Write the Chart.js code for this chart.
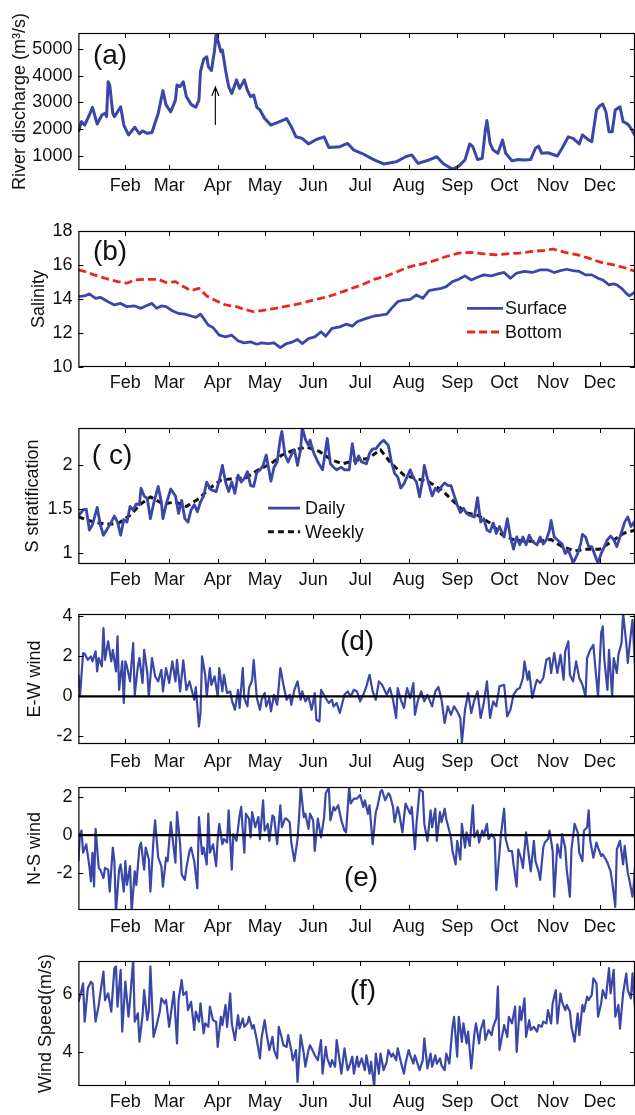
<!DOCTYPE html>
<html><head><meta charset="utf-8">
<script src="https://cdn.jsdelivr.net/npm/chart.js@4.4.1/dist/chart.umd.min.js"></script>
<style>
html,body{margin:0;padding:0;background:#fff;}
#wrap{position:relative;width:635px;height:1115px;overflow:hidden;background:#fff;}
canvas{position:absolute;left:0;}
</style></head><body>
<div id="wrap"></div>
<script>
// ---------- axis / tick data ----------
const monthStarts = [31,59,90,120,151,181,212,243,273,304,334];
const monthLabels = ['Feb','Mar','Apr','May','Jun','Jul','Aug','Sep','Oct','Nov','Dec'];
const dayMin = 1, dayMax = 356.6;
const ticksA = [1000,2000,3000,4000,5000];
const ticksB = [10,12,14,16,18];
const ticksC = [1,1.5,2];
const ticksD = [-2,0,2,4];
const ticksE = [-2,0,2];
const ticksF = [4,6];

// ---------- (a) river discharge ----------
const dischargeDay = [1,3,5,8,10,13,16,18,19,20,21,23,24,26,28,30,33,37,40,42,45,48,50,52,55,57,60,63,64,66,68,70,73,76,78,79,81,83,84,86,88,89,90,92,93,95,97,99,102,104,107,109,111,113,115,117,120,124,128,133,134,137,140,144,148,153,158,161,168,173,177,182,190,196,204,210,214,218,225,230,234,240,244,248,251,253,256,259,261,262,264,266,269,272,274,278,282,286,290,293,295,297,301,307,310,314,317,321,323,327,329,332,334,336,338,340,342,344,347,349,352,354,357];
const dischargeVal = [1900,2280,2150,2530,2820,2190,2530,2590,2470,3780,3660,2590,2470,2650,2840,2150,1780,2070,1820,1930,1840,1870,2240,2590,3450,2910,2650,3090,3660,3600,3780,3220,2930,2820,3090,4160,4620,4720,4350,4200,4970,5600,5350,4910,4970,4220,3600,3340,3850,3530,3850,3450,3220,3280,2820,2720,2400,2150,2240,2370,2400,2090,1710,1650,1440,1610,1710,1310,1340,1460,1210,1090,840,690,770,960,1030,710,840,960,710,490,610,840,1440,1340,860,900,1970,2320,1460,1210,1090,1590,1090,810,860,840,860,1280,1360,1090,1110,990,1280,1710,1650,1440,1780,1590,1530,2720,2870,2940,2650,1900,1900,2720,2840,2280,2190,2030,1710];

// ---------- (b) salinity ----------
const surfaceDay = [1,5,8,12,15,20,24,28,32,37,41,44,48,51,54,57,61,65,69,73,76,79,81,84,87,91,95,99,103,107,111,115,118,122,126,130,134,138,141,144,148,152,156,159,163,168,172,176,179,185,190,194,198,201,205,209,213,217,221,225,229,233,236,240,244,248,252,256,260,265,269,273,277,281,286,291,296,301,305,309,313,317,321,325,329,333,336,340,343,345,348,351,353,357];
const surfaceVal = [14.14,14.18,14.3,14.04,14.1,13.84,13.65,13.74,13.55,13.59,13.45,13.59,13.74,13.45,13.59,13.55,13.31,13.15,13.11,13.0,12.92,13.11,12.86,12.46,12.32,11.87,11.77,11.87,11.54,11.42,11.48,11.34,11.42,11.38,11.42,11.14,11.38,11.48,11.62,11.38,11.67,11.77,12.07,11.81,12.27,12.36,12.52,12.4,12.66,12.86,13.0,13.05,13.11,13.45,13.84,13.94,13.98,14.24,14.04,14.49,14.57,14.63,14.73,15.02,15.16,15.36,15.12,15.28,15.42,15.36,15.48,15.56,15.22,15.52,15.62,15.56,15.71,15.71,15.56,15.67,15.75,15.67,15.62,15.42,15.42,15.22,15.12,14.83,14.89,14.83,14.63,14.33,14.18,14.43];
const bottomDay = [1,5,11,18,26,32,37,44,52,57,63,68,73,78,83,89,95,102,107,113,120,127,135,143,151,159,166,174,182,190,198,205,213,221,229,236,244,252,260,268,275,283,291,299,304,312,320,327,335,343,351,357];
const bottomVal = [15.71,15.62,15.42,15.22,15.02,14.93,15.12,15.16,15.16,14.97,15.02,14.73,14.49,14.63,14.18,13.9,13.65,13.55,13.39,13.25,13.35,13.45,13.59,13.74,13.94,14.1,14.3,14.57,14.83,15.16,15.36,15.62,15.91,16.07,16.27,16.5,16.7,16.74,16.66,16.6,16.66,16.7,16.8,16.86,16.94,16.74,16.6,16.4,16.15,16.01,15.81,15.62];

// ---------- (c) stratification ----------
const dailyDay = [1,4,6,8,10,13,15,17,19,22,24,26,28,30,32,34,36,38,40,41,43,45,47,49,52,54,55,57,60,63,65,67,69,71,73,75,77,79,81,83,85,86,89,91,93,95,97,99,101,103,105,107,109,111,113,115,117,119,121,122,124,126,128,130,131,133,135,137,139,141,143,144,146,148,149,151,154,157,159,160,162,164,166,169,171,174,176,178,180,182,185,187,189,191,194,196,199,201,203,205,207,209,211,213,215,217,219,221,222,224,227,229,231,233,235,237,239,241,243,245,247,249,251,254,256,258,260,262,264,266,268,270,273,275,277,279,281,283,285,287,289,291,294,296,298,300,302,303,305,308,310,312,314,316,317,320,322,323,325,327,329,331,333,335,337,339,341,343,345,347,350,352,354,356,357];
const dailyVal = [1.42,1.49,1.5,1.26,1.32,1.52,1.32,1.2,1.26,1.35,1.42,1.35,1.2,1.38,1.35,1.53,1.49,1.56,1.55,1.74,1.65,1.62,1.39,1.56,1.76,1.58,1.39,1.55,1.73,1.65,1.45,1.6,1.39,1.35,1.49,1.55,1.47,1.58,1.65,1.81,1.74,1.72,1.7,1.83,2.0,1.81,1.7,1.81,1.68,1.89,1.81,1.85,1.93,1.77,1.76,1.92,1.95,2.0,2.12,2.02,1.82,1.98,2.04,2.31,2.39,2.12,2.04,2.12,2.18,2.0,2.19,2.44,2.3,2.23,2.29,2.16,2.04,1.95,2.19,2.31,2.02,1.98,1.95,1.98,1.95,1.95,2.25,2.02,2.11,2.04,2.02,2.14,2.19,2.19,2.26,2.29,2.23,2.04,1.91,1.87,1.74,1.79,1.87,1.95,1.86,1.81,1.64,1.85,2.0,1.85,1.65,1.74,1.7,1.76,1.8,1.77,1.77,1.66,1.55,1.46,1.51,1.45,1.43,1.41,1.63,1.35,1.39,1.26,1.24,1.34,1.22,1.3,1.18,1.39,1.18,1.04,1.18,1.09,1.18,1.09,1.2,1.13,1.09,1.18,1.1,1.15,1.26,1.37,1.18,1.13,1.1,0.99,1.03,0.94,0.88,0.99,1.11,1.21,1.18,1.07,1.07,0.97,0.88,0.99,1.07,1.15,1.19,1.15,1.07,1.18,1.35,1.41,1.3,1.35,1.26];
const weeklyDay = [1,11,18,26,34,41,47,55,63,70,78,85,92,100,108,116,124,131,139,147,155,163,170,178,186,194,201,209,217,225,233,240,248,256,264,272,279,287,295,303,310,318,326,334,342,349,357];
const weeklyVal = [1.41,1.35,1.33,1.33,1.43,1.56,1.64,1.56,1.58,1.53,1.62,1.74,1.83,1.85,1.86,1.95,2.02,2.12,2.18,2.21,2.16,2.06,2.02,2.06,2.08,2.18,2.02,1.89,1.85,1.81,1.72,1.6,1.46,1.43,1.34,1.2,1.15,1.13,1.13,1.15,1.07,1.02,1.04,1.04,1.13,1.22,1.26];

// ---------- (d) E-W wind ----------
const ewDay = [1,2,4,5,7,9,10,12,13,14,16,17,18,20,22,23,25,26,27,29,30,31,32,34,36,37,39,40,42,43,45,46,48,50,52,54,55,57,59,61,63,64,66,68,70,72,75,76,78,79,80,82,83,85,86,88,90,91,93,94,96,98,99,101,103,104,106,107,109,110,112,113,115,117,118,120,121,123,124,126,128,130,132,134,136,137,139,141,143,144,146,148,150,152,153,155,156,159,161,163,164,166,168,171,173,175,177,179,181,183,185,187,189,191,193,195,198,200,202,204,205,207,209,211,213,215,216,218,220,222,224,227,229,231,233,235,237,239,241,243,245,246,248,250,252,254,256,258,260,262,264,266,268,270,273,275,277,279,281,283,285,286,288,289,291,293,294,296,298,300,302,303,305,307,309,311,312,314,315,317,319,321,323,325,326,328,330,331,333,335,336,337,339,340,342,343,345,346,348,349,351,352,354,355,357];
const ewVal = [1.08,0,2.17,2.13,1.83,2.0,1.75,2.25,1.25,1.92,1.5,3.42,1.83,2.75,1.75,2.33,1.25,3.0,0.33,1.75,-0.33,1.75,1.5,0.75,2.67,0.08,1.5,1.92,0.67,2.33,1.17,0,1.92,1.0,0.75,1.33,0.25,1.42,0.67,1.75,0.75,1.83,0.25,1.8,0.33,0.75,-0.17,0.47,-1.5,-0.83,2.0,1.08,0,1.42,0.58,1.0,0,1.42,0.25,1.08,0.17,0.25,-0.17,-0.67,0.33,-0.58,1.42,-0.08,-0.5,0.42,0.83,1.83,-0.08,-0.67,-0.17,0.17,-0.5,-0.08,-0.75,0.08,-0.42,1.42,0.58,-0.17,0.08,-0.42,0.33,0.75,-0.17,0.25,-0.25,0,-0.67,0.17,-1.17,-1.25,0.33,-0.08,-0.33,-0.17,-0.5,-0.33,-0.83,0.08,0.25,0,0.33,0.25,-0.25,0.08,0.5,1.08,0.25,-0.17,0.75,0.58,0.08,0.42,-0.17,-1.08,0.42,-0.17,-0.58,0.42,-0.08,0.67,-0.92,-0.17,0.25,-0.25,0.08,-0.5,0.25,0.47,-0.17,-1.33,-0.5,-0.92,-0.5,-0.75,-1.08,-2.33,-0.67,0.17,-0.83,-0.17,0.25,-1.08,-0.33,0.75,-1.08,-0.25,-0.5,0.5,0.58,-1.0,-0.67,0.08,0.33,0.42,0.92,1.75,0.83,1.25,-0.08,0.58,0.83,0.67,0.92,1.83,1.92,1.17,2.17,1.17,2.08,0.83,2.25,2.75,1.08,0.75,1.75,0.92,0.58,0,1.92,2.33,2.58,1.67,0,3.17,3.5,1.83,0.33,2.33,0,1.92,1.17,2.08,2.67,4.17,2.67,1.67,3.17,3.83,0.92];

// ---------- (e) N-S wind ----------
const nsDay = [1,2,3,4,6,8,9,10,11,12,14,15,17,18,20,21,23,24,25,27,28,30,31,32,34,35,37,38,40,41,43,44,46,47,49,50,52,54,55,57,58,60,62,63,64,66,67,69,70,72,73,75,77,78,80,81,83,84,85,87,89,90,91,93,94,96,97,99,100,102,104,105,107,108,110,111,112,114,116,117,119,120,122,123,125,126,128,130,131,133,134,136,137,139,141,142,143,145,146,148,149,151,152,154,156,158,159,161,162,164,165,167,169,171,172,174,175,177,179,181,183,184,186,187,189,191,192,194,195,197,199,200,202,203,205,206,208,210,211,213,214,216,217,219,221,222,224,226,227,229,230,232,233,235,236,239,240,242,243,245,246,248,249,251,253,254,256,257,259,260,262,263,265,267,268,270,271,273,274,276,278,279,281,282,284,285,287,288,290,292,293,295,296,298,299,301,302,304,305,307,309,310,312,313,315,316,318,320,321,323,324,326,327,328,330,332,333,335,336,338,339,341,342,344,345,347,349,350,352,353,355,356,357];
const nsVal = [-1.36,0.05,0.23,-0.92,-0.48,-1.62,-2.41,-0.92,-2.68,0.32,-1.71,-1.8,-2.24,-1.71,-1.8,-2.94,-0.65,-1.36,-4.0,-1.8,-1.53,-2.94,-1.36,-2.59,-1.62,-4.0,-1.89,-2.59,-0.65,-0.39,-1.8,-0.65,-1.27,-2.94,-0.21,0.76,-1.18,-1.62,-2.68,-1.18,-1.36,0.67,-0.74,-1.44,1.2,-0.48,-2.06,-2.33,-1.71,-0.83,-0.65,-1.36,-2.77,0.93,-1.0,-0.65,-1.53,1.11,-0.92,-0.48,-1.62,-0.21,0.58,-0.48,-0.21,-0.39,1.29,-1.8,0.05,-0.3,1.02,1.46,-0.92,1.11,0.85,-0.12,1.2,0.41,0.93,-0.21,1.81,0.23,0.58,-0.3,1.02,0.93,-0.48,1.55,0.41,0.85,0.85,0.67,-0.39,-1.36,-0.21,0.93,2.52,0.93,1.11,0.32,1.11,0.76,-0.83,0.85,-0.12,0.93,2.17,2.48,0.76,1.46,1.29,1.55,0.76,0.23,0.14,2.52,1.64,1.9,1.9,2.08,1.46,1.81,1.11,1.55,-0.48,1.2,1.46,2.26,2.34,1.81,2.17,2.08,1.46,0.67,1.46,1.11,0.14,1.64,1.46,1.11,1.46,-0.74,0.58,2.38,2.26,0.58,-0.3,1.29,0.41,1.37,-0.3,1.2,0.67,1.37,0.85,-0.12,-0.83,-1.53,-0.3,-1.27,0.58,-0.65,0.14,-0.56,1.55,-0.12,0.23,-0.39,0.23,-0.04,0.58,-0.21,0.05,-0.21,-2.85,-0.92,0.05,1.37,-0.21,-0.83,-0.83,-1.53,-2.68,-0.74,-1.27,-1.71,0.14,-0.56,-1.89,-0.3,-1.36,-1.89,-2.33,-0.65,-0.39,-0.21,0.23,-0.83,-3.21,-0.48,-1.18,0.05,-0.65,-1.8,-3.21,-0.74,0.58,0.14,-0.92,-1.36,0.23,0.41,1.29,-0.3,-1.18,-0.39,-0.65,-1.09,-1.0,-1.27,-1.44,-1.89,-2.41,-3.74,-0.74,-0.3,-1.53,-0.56,-1.97,-2.33,-3.21,-2.41,-1.18];

// ---------- (f) wind speed ----------
const wsDay = [1,2,4,5,7,9,10,12,14,15,17,18,20,22,24,25,26,28,29,31,33,34,36,37,39,40,42,43,45,46,47,49,51,53,54,56,57,59,61,62,64,65,67,68,70,71,73,75,76,78,79,81,82,84,85,87,89,90,92,93,95,96,98,99,101,103,104,106,107,109,110,112,113,115,117,118,120,121,123,125,126,128,129,131,132,134,135,137,138,140,141,143,145,146,148,149,151,152,154,156,157,159,160,162,163,165,166,168,169,171,173,174,176,177,179,180,182,184,185,187,188,190,191,193,194,196,198,199,201,202,204,205,207,209,210,212,213,215,216,218,219,221,222,224,226,227,229,230,232,233,235,236,238,240,241,243,244,246,247,249,250,252,254,255,257,258,260,261,263,265,266,268,269,270,272,273,275,276,278,280,281,283,284,286,287,289,290,292,294,295,297,298,300,301,303,304,306,307,309,310,312,313,315,316,318,320,321,323,324,326,327,329,330,332,333,335,336,338,340,341,343,344,346,347,349,351,352,354,355,357];
const wsVal = [5.74,5.92,6.38,5.05,6.21,6.44,6.38,5.05,5.63,6.03,6.79,5.8,6.03,5.4,6.91,6.97,5.57,6.85,4.7,6.44,5.22,5.8,7.2,5.05,5.34,4.35,5.28,6.15,5.1,5.45,6.97,4.52,4.93,5.4,5.86,5.69,5.8,4.87,5.69,6.09,4.29,5.8,6.5,5.98,6.09,5.45,5.74,4.76,5.4,5.05,5.69,4.64,4.99,4.87,5.57,5.1,5.05,4.17,5.22,4.93,5.63,4.87,6.03,4.99,4.41,5.28,4.81,5.16,4.87,4.99,5.22,4.81,4.93,4.41,3.77,4.47,5.1,4.7,4.06,4.52,4.06,3.77,4.87,4.47,4.23,4.17,4.58,4.06,3.71,4.06,2.95,4.58,3.94,3.48,4.06,4.23,4.0,3.88,3.71,4.41,3.24,4.17,3.77,3.48,3.71,3.48,4.41,3.65,3.24,4.12,3.36,3.48,3.83,3.24,3.83,3.48,3.77,3.36,3.88,3.24,3.65,2.78,3.94,3.24,3.94,3.36,3.65,4.06,3.83,3.94,3.71,4.12,3.65,3.24,3.59,4.06,3.88,3.59,3.88,3.53,3.36,3.71,4.47,3.42,3.94,3.48,3.88,3.59,3.77,3.53,3.36,3.94,3.59,4.87,5.22,3.83,5.22,4.35,4.99,4.29,4.7,3.42,4.64,4.99,4.29,4.76,5.1,4.41,4.76,4.58,4.87,5.16,6.27,4.06,4.64,4.93,4.52,5.22,4.99,5.57,4.0,5.57,5.1,5.86,4.52,5.1,4.76,4.87,4.7,4.93,4.87,5.05,4.99,5.45,4.99,5.69,6.15,4.99,6.03,5.74,5.45,5.63,5.4,4.87,4.35,5.34,4.58,5.63,5.4,5.92,5.8,5.98,6.56,6.38,5.22,5.69,6.15,5.86,6.91,6.03,6.85,5.22,5.63,4.81,6.03,6.73,6.15,5.86,6.73,5.22];

// ---------- styling ----------
const BLUE = '#3a46a8', RED = '#e8281e';
const FONT = '"Liberation Sans", Arial, Helvetica, sans-serif';
Chart.defaults.font.family = FONT;
Chart.defaults.font.size = 18;
Chart.defaults.color = '#111';

const pts = (d, v) => d.map((x, i) => ({x, y: v[i]}));

const deco = {
  id: 'deco',
  afterDatasetsDraw(chart, args, o) {
    const {ctx, chartArea: a, scales: {x, y}} = chart;
    ctx.save();
    if (o.zero) {
      const py = y.getPixelForValue(0);
      ctx.strokeStyle = '#000'; ctx.lineWidth = 2.2;
      ctx.beginPath(); ctx.moveTo(a.left, py); ctx.lineTo(a.right, py); ctx.stroke();
    }
    ctx.strokeStyle = '#000'; ctx.lineWidth = 1.2;
    ctx.strokeRect(a.left + 0.5, a.top + 0.5, a.right - a.left - 1, a.bottom - a.top - 1);
    ctx.beginPath();
    x.ticks.forEach(t => {
      const px = Math.round(x.getPixelForValue(t.value)) + 0.5;
      ctx.moveTo(px, a.bottom); ctx.lineTo(px, a.bottom - 5);
      ctx.moveTo(px, a.top); ctx.lineTo(px, a.top + 5);
    });
    y.ticks.forEach(t => {
      const py = Math.round(y.getPixelForValue(t.value)) + 0.5;
      ctx.moveTo(a.left, py); ctx.lineTo(a.left + 5, py);
      ctx.moveTo(a.right, py); ctx.lineTo(a.right - 5, py);
    });
    ctx.lineWidth = 1; ctx.stroke();
    if (o.label) {
      ctx.fillStyle = '#111'; ctx.font = '28px ' + FONT;
      ctx.textAlign = 'center'; ctx.textBaseline = 'middle';
      ctx.fillText(o.label.text, x.getPixelForValue(o.label.x), y.getPixelForValue(o.label.y));
    }
    (o.legend || []).forEach(l => {
      const py = y.getPixelForValue(l.y);
      ctx.strokeStyle = l.color; ctx.lineWidth = l.width; ctx.setLineDash(l.dash || []);
      ctx.beginPath(); ctx.moveTo(x.getPixelForValue(l.x0), py); ctx.lineTo(x.getPixelForValue(l.x1), py); ctx.stroke();
      ctx.setLineDash([]);
      ctx.fillStyle = '#111'; ctx.font = '18px ' + FONT; ctx.textAlign = 'left'; ctx.textBaseline = 'middle';
      ctx.fillText(l.text, x.getPixelForValue(l.xt), py + 1);
    });
    if (o.arrow) {
      const px = x.getPixelForValue(o.arrow.x) ;
      const y0 = y.getPixelForValue(o.arrow.y0), y1 = y.getPixelForValue(o.arrow.y1);
      ctx.strokeStyle = '#000'; ctx.lineWidth = 1.1;
      ctx.beginPath(); ctx.moveTo(px, y0); ctx.lineTo(px, y1);
      ctx.moveTo(px - 3.5, y1 + 9); ctx.lineTo(px, y1); ctx.lineTo(px + 3.5, y1 + 9);
      ctx.stroke();
    }
    ctx.restore();
  }
};

const wrap = document.getElementById('wrap');
function panel(p) {
  const padTop = 24, xH = 38;
  const H = padTop + (p.bottom - p.top) + xH;
  const cv = document.createElement('canvas');
  cv.width = 635; cv.height = H;
  cv.style.top = (p.top - padTop) + 'px';
  wrap.appendChild(cv);
  new Chart(cv, {
    type: 'line',
    data: {datasets: p.datasets.map(d => Object.assign({pointRadius: 0, tension: 0, fill: false, borderJoinStyle: 'round', borderCapStyle: 'butt'}, d))},
    options: {
      responsive: false, animation: false, devicePixelRatio: 1,
      layout: {padding: {top: padTop, left: 0, right: 0, bottom: 0}},
      plugins: {legend: {display: false}, tooltip: {enabled: false}, deco: p.deco},
      scales: {
        x: {
          type: 'linear', min: dayMin, max: dayMax,
          grid: {display: false, drawTicks: false}, border: {display: false},
          afterBuildTicks: s => { s.ticks = monthStarts.map(v => ({value: v})); },
          afterFit: s => { s.height = xH; },
          ticks: {autoSkip: false, maxRotation: 0, minRotation: 0, padding: p.xpad,
                  callback: (v, i) => monthLabels[i]}
        },
        y: {
          type: 'linear', min: p.ymin, max: p.ymax,
          grid: {display: false, drawTicks: false}, border: {display: false},
          afterBuildTicks: s => { s.ticks = p.yticks.map(v => ({value: v})); },
          afterFit: s => { s.width = 78.4; },
          ticks: {padding: 6, callback: v => String(v)},
          title: {display: true, text: p.title, padding: {top: p.titlePad, bottom: 0}, font: {size: 18}, color: '#111'}
        }
      }
    },
    plugins: [deco]
  });
}

panel({top: 33, bottom: 170, ymin: 462, ymax: 5613, yticks: ticksA, xpad: 5,
  title: 'River discharge (m³/s)', titlePad: 9,
  datasets: [{data: pts(dischargeDay, dischargeVal), borderColor: BLUE, borderWidth: 3}],
  deco: {label: {text: '(a)', x: 21.2, y: 4750}, arrow: {x: 88.5, y0: 2150, y1: 3580}}});

panel({top: 231, bottom: 367, ymin: 10, ymax: 18, yticks: ticksB, xpad: 5,
  title: 'Salinity', titlePad: 28,
  datasets: [
    {data: pts(surfaceDay, surfaceVal), borderColor: BLUE, borderWidth: 2.8},
    {data: pts(bottomDay, bottomVal), borderColor: RED, borderWidth: 2.8, borderDash: [8, 4]}],
  deco: {label: {text: '(b)', x: 21.2, y: 16.72},
    legend: [
      {text: 'Surface', x0: 249.3, x1: 272.3, xt: 273.5, y: 13.45, color: BLUE, width: 2.8},
      {text: 'Bottom', x0: 249.3, x1: 272.3, xt: 273.5, y: 12.06, color: RED, width: 2.8, dash: [8, 4]}]}});

panel({top: 428, bottom: 564, ymin: 0.87, ymax: 2.43, yticks: ticksC, xpad: 5,
  title: 'S stratification', titlePad: 22,
  datasets: [
    {data: pts(dailyDay, dailyVal), borderColor: BLUE, borderWidth: 2.8},
    {data: pts(weeklyDay, weeklyVal), borderColor: '#111', borderWidth: 3, borderDash: [6, 4]}],
  deco: {label: {text: '( c)', x: 22.5, y: 2.1},
    legend: [
      {text: 'Daily', x0: 122.1, x1: 142.6, xt: 145.8, y: 1.51, color: BLUE, width: 2.8},
      {text: 'Weekly', x0: 122.1, x1: 142.6, xt: 145.8, y: 1.24, color: '#111', width: 3, dash: [6, 4]}]}});

panel({top: 614, bottom: 744, ymin: -2.38, ymax: 4.12, yticks: ticksD, xpad: 7,
  title: 'E-W wind', titlePad: 24,
  datasets: [{data: pts(ewDay, ewVal), borderColor: BLUE, borderWidth: 2.2}],
  deco: {zero: true, label: {text: '(d)', x: 179, y: 2.69}}});

panel({top: 787, bottom: 910, ymin: -3.9, ymax: 2.5, yticks: ticksE, xpad: 6,
  title: 'N-S wind', titlePad: 24,
  datasets: [{data: pts(nsDay, nsVal), borderColor: BLUE, borderWidth: 2.2}],
  deco: {zero: true, label: {text: '(e)', x: 181.6, y: -2.24}}});

panel({top: 961, bottom: 1086, ymin: 2.81, ymax: 7.16, yticks: ticksF, xpad: 5,
  title: 'Wind Speed(m/s)', titlePad: 35,
  datasets: [{data: pts(wsDay, wsVal), borderColor: BLUE, borderWidth: 2.2}],
  deco: {label: {text: '(f)', x: 182.8, y: 6.09}}});
</script>
</body></html>
